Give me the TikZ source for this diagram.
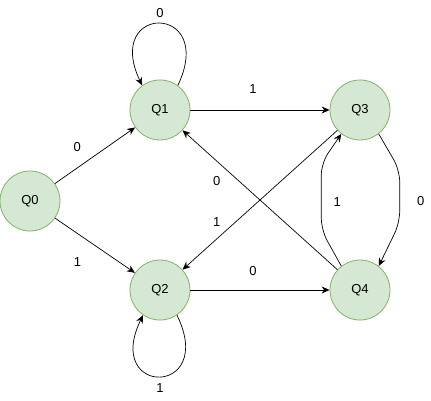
\documentclass[tikz,border=0pt]{standalone}
\usepackage{fontspec}
\setmainfont{Liberation Sans}
\usetikzlibrary{arrows.meta}
\definecolor{stfill}{HTML}{D5E8D4}
\definecolor{stdraw}{HTML}{82B366}
\tikzset{
  qnode/.style={circle,draw=stdraw,fill=stfill,minimum size=60pt,inner sep=0pt,
    font=\fontsize{13}{15}\selectfont,line width=0.8pt},
  tedge/.style={-{Stealth[length=8pt,width=7pt]},line width=0.7pt},
  elbl/.style={font=\fontsize{13}{15}\selectfont,inner sep=0pt},
}
\begin{document}
\begin{tikzpicture}[x=1pt,y=-1pt]
  \fill[white] (0,0) rectangle (431,401);
  \useasboundingbox (0,0) rectangle (431,401);
  \node[qnode] (q0) at (30,201){Q0}; \node[qnode] (q1) at (160,110){Q1};
  \node[qnode] (q2) at (160,290){Q2}; \node[qnode] (q3) at (360,110){Q3};
  \node[qnode] (q4) at (360,290){Q4};
  \draw[tedge] (q0)--node[elbl,pos=0.28,yshift=21pt]{0}(q1);
  \draw[tedge] (q0)--node[elbl,pos=0.28,yshift=-29pt]{1}(q2);
  \draw[tedge] (q1)--node[elbl,pos=0.45,yshift=21pt]{1}(q3);
  \draw[tedge] (q2)--node[elbl,pos=0.45,yshift=19pt]{0}(q4);
  \draw[tedge] (q4)--node[elbl,pos=0.78,yshift=-20pt]{0}(q1);
  \draw[tedge,{Stealth[length=8pt,width=7pt]}-] (q2)--node[elbl,pos=0.22,yshift=17pt]{1}(q3);
  % self loops
  \draw[tedge] (q1.54) .. controls (217,3) and (103,3) .. node[elbl,above=6pt]{0} (q1.126);
  \draw[tedge] (q2.-56) .. controls (217,397) and (103,397) .. node[elbl,below=7pt]{1} (q2.-124);
  % Q3 <-> Q4
  \draw[tedge,rounded corners=12pt] (q4.128) -- ++(-20,-36) -- ++(0,-67)
    node[elbl,midway,xshift=16pt,yshift=-5pt]{1} -- (q3.232);
  \draw[tedge,rounded corners=12pt] (q3.-52) -- ++(21,36) -- ++(0,53)
    node[elbl,midway,xshift=21pt,yshift=-5pt]{0} -- (q4.52);
\end{tikzpicture}
\end{document}
